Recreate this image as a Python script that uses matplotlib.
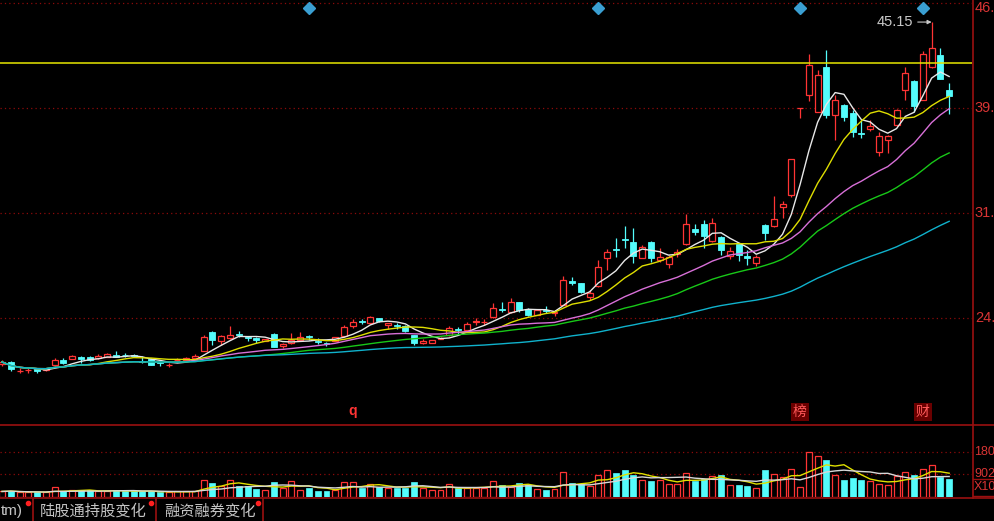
import numpy as np
import pandas as pd
import matplotlib
matplotlib.use('Agg')
import matplotlib.pyplot as plt
from matplotlib.transforms import blended_transform_factory

# ---------------- data ----------------
opens = [21.27, 21.41, 20.75, 20.82, 20.92, 20.85, 21.20, 21.55, 21.62, 21.76,
         21.76, 21.69, 21.76, 21.90, 21.90, 21.87, 21.48, 21.62, 21.41, 21.17,
         21.52, 21.55, 21.69, 22.20, 23.51, 22.88, 23.09, 23.40, 23.16, 23.09,
         22.91, 23.40, 22.53, 22.71, 22.98, 23.23, 22.91, 22.77, 22.91, 23.23,
         23.89, 24.28, 24.14, 24.45, 23.96, 24.00, 23.93, 23.30, 22.77, 22.74,
         23.05, 23.30, 23.68, 23.65, 24.17, 24.17, 24.55, 25.08, 24.87, 25.57,
         25.11, 24.69, 25.04, 24.83, 25.39, 27.07, 26.93, 25.95, 26.72, 28.67,
         29.33, 30.03, 29.79, 28.67, 29.82, 28.53, 28.25, 28.95, 29.65, 30.70,
         31.05, 29.86, 30.17, 28.78, 29.65, 28.78, 28.32, 30.98, 30.91, 32.20,
         33.04, 39.15, 40.09, 38.90, 41.98, 38.66, 39.36, 38.83, 37.37, 37.65,
         36.11, 36.91, 37.96, 40.37, 41.03, 39.74, 41.98, 42.85, 40.41]
closes = [21.41, 20.92, 20.78, 20.85, 20.78, 20.92, 21.55, 21.34, 21.83, 21.62,
          21.55, 21.83, 21.97, 21.76, 21.87, 21.83, 21.41, 21.20, 21.34, 21.20,
          21.55, 21.69, 21.83, 23.16, 22.95, 23.25, 23.30, 23.33, 23.09, 22.98,
          23.02, 22.46, 22.64, 22.95, 23.16, 23.16, 22.84, 22.67, 23.16, 23.86,
          24.21, 24.21, 24.55, 24.24, 24.10, 23.93, 23.54, 22.74, 22.88, 22.95,
          23.12, 23.75, 23.61, 24.03, 24.24, 24.21, 25.15, 25.01, 25.57, 25.04,
          24.69, 25.04, 24.97, 24.90, 27.14, 26.96, 26.30, 26.23, 28.04, 29.09,
          29.23, 29.93, 28.78, 29.44, 28.67, 28.74, 28.74, 29.06, 31.05, 30.49,
          30.24, 31.15, 29.23, 29.16, 28.88, 28.67, 28.74, 30.42, 31.43, 32.41,
          35.59, 39.15, 42.15, 41.45, 38.66, 39.71, 38.55, 37.44, 37.30, 37.86,
          37.16, 37.19, 39.04, 41.56, 39.29, 42.92, 43.37, 41.17, 39.99]
highs = [21.55, 21.48, 20.99, 20.96, 20.96, 20.99, 21.66, 21.69, 21.90, 21.80,
         21.80, 21.97, 22.01, 22.18, 22.04, 21.94, 21.83, 21.66, 21.45, 21.34,
         21.66, 21.73, 21.94, 23.30, 23.58, 23.30, 23.93, 23.58, 23.23, 23.16,
         23.05, 23.44, 22.74, 23.47, 23.51, 23.30, 23.09, 22.81, 23.19, 24.00,
         24.38, 24.42, 24.62, 24.48, 24.14, 24.14, 23.96, 23.33, 23.05, 22.98,
         23.19, 23.89, 23.86, 24.17, 24.45, 24.38, 25.50, 25.57, 25.85, 25.60,
         25.15, 25.08, 25.29, 25.01, 27.41, 27.38, 26.96, 26.44, 28.53, 29.30,
         30.10, 30.91, 30.80, 29.58, 29.86, 29.40, 28.88, 29.33, 31.74, 31.08,
         31.33, 31.50, 30.21, 29.47, 29.72, 29.23, 28.85, 31.05, 32.97, 32.62,
         35.62, 39.15, 42.95, 41.80, 43.20, 40.06, 39.43, 39.01, 38.31, 38.28,
         37.44, 37.26, 39.11, 41.98, 41.07, 43.16, 45.15, 43.34, 40.86]
lows = [21.13, 20.78, 20.64, 20.64, 20.64, 20.78, 21.13, 21.27, 21.59, 21.34,
        21.48, 21.62, 21.73, 21.73, 21.76, 21.76, 21.34, 21.17, 21.13, 21.06,
        21.45, 21.52, 21.62, 22.18, 22.60, 22.60, 23.02, 23.16, 22.88, 22.74,
        22.88, 22.43, 22.39, 22.67, 22.95, 22.95, 22.67, 22.56, 22.88, 23.16,
        23.79, 24.03, 24.07, 24.21, 23.72, 23.72, 23.51, 22.60, 22.67, 22.71,
        23.02, 23.23, 23.40, 23.54, 23.96, 24.00, 24.48, 24.87, 24.83, 24.90,
        24.62, 24.66, 24.80, 24.62, 25.36, 26.79, 26.23, 25.74, 26.65, 27.80,
        28.74, 29.40, 28.32, 28.64, 28.39, 28.39, 27.97, 28.71, 29.58, 30.28,
        29.37, 29.79, 28.88, 28.60, 28.43, 28.18, 28.08, 29.93, 30.84, 31.47,
        32.93, 38.43, 39.64, 38.87, 38.48, 36.91, 38.21, 37.12, 37.05, 37.51,
        35.80, 36.04, 37.86, 39.71, 38.90, 39.71, 41.91, 41.14, 38.76]
volumes = [2025, 2300, 1620, 1620, 1620, 1620, 3645, 2025, 2430, 2430,
           2430, 2025, 2025, 2700, 2025, 2025, 2025, 2025, 1620, 1620,
           2025, 2025, 2300, 6750, 5400, 4320, 6750, 4050, 4050, 2970,
           2700, 5800, 3375, 6075, 2700, 3375, 2300, 2300, 2700, 5800,
           5800, 3375, 5130, 3645, 3375, 3375, 3375, 5800, 3375, 2700,
           2430, 4990, 3375, 3375, 3375, 3375, 6075, 4455, 3780, 5535,
           4725, 2835, 2430, 2835, 9855, 5535, 4860, 4185, 8505, 10530,
           9585, 10530, 8505, 6480, 6075, 6480, 5130, 5130, 9585, 6075,
           7155, 8100, 8505, 4455, 4455, 4050, 3375, 10530, 8910, 7830,
           10935, 3780, 17955, 16200, 14580, 8505, 6480, 7425, 6480, 6075,
           4860, 4455, 8235, 9855, 8505, 10935, 12555, 7830, 6885]

price_ticks = [46.48, 39.15, 31.82, 24.49]
price_tick_labels = ['46.', '39.', '31.', '24.']
vol_ticks = [18046, 9023]
vol_tick_labels = ['180', '902']
vol_unit_label = 'X10'
resistance_level = 42.29
max_price_label = '45.15'
ma_windows = [5, 10, 20, 30, 60]
vol_ma_windows = [5, 10]
event_diamond_idx = [35, 68, 91, 105]
bottom_marker_idx = [40, 91, 105]
bottom_marker_text = ['q', '榜', '财']
tab_labels = ['tm)', '陆股通持股变化', '融资融券变化']

# ---------------- style ----------------
RED = '#ff3434'
CYAN = '#54fcfc'
GRID = '#8c0a0a'
AXRED = '#9a1010'
LBL = '#d83434'
MA_COLORS = ['#e8e8e8', '#dede00', '#d870d8', '#18c818', '#10b2cc']
VOL_MA_COLORS = ['#e0e000', '#d8d8d8']
LATIN = ['Liberation Sans', 'DejaVu Sans']
CJK = ['Noto Sans CJK SC', 'DejaVu Sans']

W, H = 995, 521
fig = plt.figure(figsize=(W / 100, H / 100), dpi=100, facecolor='black')


def rect(x0, y0, x1, y1):
    return [x0 / W, 1 - y1 / H, (x1 - x0) / W, (y1 - y0) / H]


ax = fig.add_axes(rect(0, 0, 972, 423))
axv = fig.add_axes(rect(0, 425, 972, 497))
ov = fig.add_axes([0, 0, 1, 1], zorder=10)
ov.set_xlim(0, W)
ov.set_ylim(H, 0)
ov.set_axis_off()
ov.patch.set_alpha(0)

step = 8.77
xlim = (-2 / step, 970 / step)
for a in (ax, axv):
    a.set_axis_off()
    a.set_xlim(*xlim)
ax.set_ylim(17.15, 46.69)
axv.set_ylim(-200, 28673)

o = np.array(opens)
c = np.array(closes)
h = np.array(highs)
l = np.array(lows)
v = np.array(volumes)
x = np.arange(len(c))
up = c >= o
bw = 0.68

# gridlines
for t in price_ticks:
    ax.axhline(t, color=GRID, lw=0.9, ls=(0, (1, 2.5)), zorder=1)
for t in vol_ticks:
    axv.axhline(t, color=GRID, lw=0.9, ls=(0, (1, 2.5)), zorder=1)

# candles
ax.vlines(x[up], l[up], h[up], color=RED, lw=0.9, zorder=2)
ax.vlines(x[~up], l[~up], h[~up], color=CYAN, lw=0.9, zorder=2)
body = np.maximum(np.abs(c - o), 0.03)
bot = np.minimum(o, c)
ax.bar(x[up], body[up], bottom=bot[up], width=bw, facecolor='black',
       edgecolor=RED, lw=0.9, zorder=3)
ax.bar(x[~up], body[~up], bottom=bot[~up], width=bw, facecolor=CYAN,
       edgecolor=CYAN, lw=0.6, zorder=3)

# moving averages
cs = pd.Series(c)
for w, col in zip(ma_windows, MA_COLORS):
    ax.plot(x, cs.rolling(w, min_periods=1).mean(), color=col, lw=1.0, zorder=4)

ax.axhline(resistance_level, color='#e6e600', lw=1.1, zorder=4)

# max label
imax = int(np.argmax(h))
ax.annotate(max_price_label, xy=(x[imax], h[imax]), xytext=(-13, 0),
            textcoords='offset points', ha='right', va='center',
            color='#c8c8c8', fontsize=10.5, family=LATIN,
            arrowprops=dict(arrowstyle='-|>', color='#c8c8c8', lw=0.8,
                            shrinkA=1, shrinkB=0, mutation_scale=6))

# event diamonds and bottom markers
tb = blended_transform_factory(ax.transData, ax.transAxes)
ax.plot(event_diamond_idx, [0.981] * len(event_diamond_idx), 'D',
        color='#3a9fd2', markersize=6.5, transform=tb, zorder=5, clip_on=False)
for idx, txt in zip(bottom_marker_idx, bottom_marker_text):
    if txt == 'q':
        ax.text(idx, 0.028, txt, transform=tb, ha='center', va='center',
                color=RED, fontsize=10, fontweight='bold', family=LATIN)
    else:
        ax.text(idx, 0.026, txt, transform=tb, ha='center', va='center',
                color='#ff5a5a', fontsize=10, family=CJK,
                bbox=dict(boxstyle='square,pad=0.15', fc='#6a0000', ec='none'))

# volume
axv.bar(x[up], v[up], width=bw, facecolor='black', edgecolor=RED, lw=0.9, zorder=3)
axv.bar(x[~up], v[~up], width=bw, facecolor=CYAN, edgecolor=CYAN, lw=0.5, zorder=3)
vs = pd.Series(v)
for w, col in zip(vol_ma_windows, VOL_MA_COLORS):
    axv.plot(x, vs.rolling(w, min_periods=1).mean(), color=col, lw=1.0, zorder=4)

# right axis labels
tp = blended_transform_factory(ax.transAxes, ax.transData)
for t, s in zip(price_ticks, price_tick_labels):
    yy = min(t, 46.10)  # keep the top label inside the canvas
    ax.text(1.003, yy, s, transform=tp, ha='left', va='center', color=LBL,
            fontsize=10.5, family=LATIN, clip_on=False)
tv = blended_transform_factory(axv.transAxes, axv.transData)
for t, s in zip(vol_ticks, vol_tick_labels):
    axv.text(1.002, t, s, transform=tv, ha='left', va='center', color=LBL,
             fontsize=9, family=LATIN, clip_on=False)
ov.text(974, 487.5, vol_unit_label, ha='left', va='center', color=LBL,
        fontsize=9, family=LATIN)
ov.plot([972.5, 995], [478.5, 478.5], color=AXRED, lw=1)
ov.plot([972.5, 995], [495.5, 495.5], color=AXRED, lw=1)

# frame lines
ov.plot([972.5, 972.5], [0, 498], color=AXRED, lw=1.2)
ov.plot([0, 995], [424.5, 424.5], color=AXRED, lw=1.2)
ov.plot([0, 995], [498, 498], color=AXRED, lw=1.2)
for xx in [33, 156, 263]:
    ov.plot([xx, xx], [499, 521], color=AXRED, lw=1.2)

# tab texts
ov.text(1, 511, tab_labels[0], ha='left', va='center', color='#c4c4c4',
        fontsize=11, family=LATIN)
ov.text(40, 511, tab_labels[1], ha='left', va='center', color='#c4c4c4',
        fontsize=11, family=CJK)
ov.text(164, 511, tab_labels[2], ha='left', va='center', color='#c4c4c4',
        fontsize=11, family=CJK)
ov.plot([28, 151, 258], [503, 503, 503], 'o', color='#ff2020', markersize=3)

fig.savefig('out.png', dpi=100, facecolor='black')
